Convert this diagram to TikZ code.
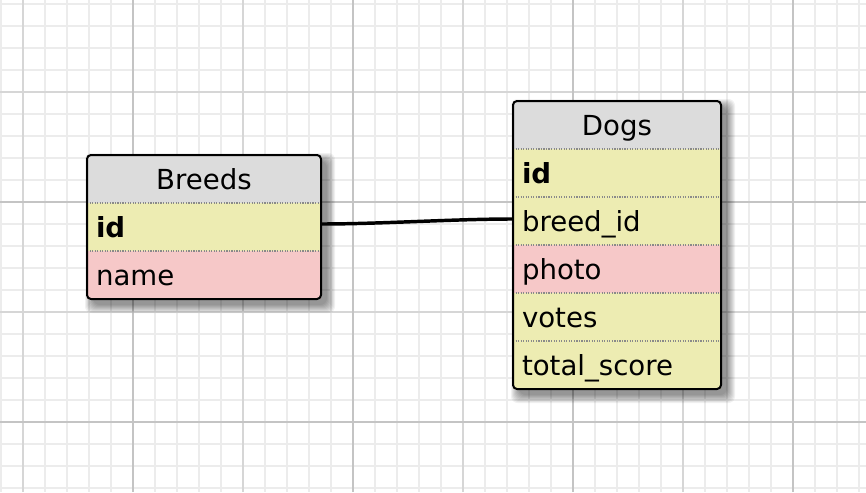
\documentclass[tikz,border=0pt]{standalone}
\usepackage{fontspec}
\setmainfont{DejaVu Sans}
\usetikzlibrary{positioning}

\pgfdeclarelayer{grid}
\pgfdeclarelayer{shadow}
\pgfsetlayers{grid,shadow,main}

\definecolor{hdrgray}{HTML}{DCDCDC}
\definecolor{keyyellow}{HTML}{EDECB2}
\definecolor{valpink}{HTML}{F6C8C8}
\definecolor{sepgray}{HTML}{8A8A8A}
\definecolor{minorline}{HTML}{ECECEC}
\definecolor{midline}{HTML}{D6D6D6}
\definecolor{majorline}{HTML}{C4C4C4}

\tikzset{hdr/.style={fill=hdrgray,minimum width=#1,minimum height=36pt,
                     inner sep=0pt,outer sep=0pt,align=center,
                     text height=19pt,text depth=3.6pt},
         fld/.style={fill=keyyellow,text width=#1,minimum height=36pt,
                     inner xsep=6.75pt,inner ysep=0pt,outer sep=0pt,align=left,
                     text height=19pt,text depth=3.6pt}}

\begin{document}
\begin{tikzpicture}[x=0.75pt,y=-0.75pt,node distance=0pt,
                    font=\fontsize{20.7}{24}\selectfont]

  \tikzstyle{pink}=[fill=valpink]
  \tikzstyle{sep}=[sepgray,densely dotted,line width=0.9pt]
  \tikzstyle{border}=[black,line width=1.5pt,rounded corners=3pt]
  \tikzstyle{link}=[black,line width=2.6pt]
  \tikzstyle{shade}=[black,opacity=0.055,rounded corners=5pt]

  \useasboundingbox (0,0) rectangle (866,492);

  % tables
  \node[hdr=175.5pt,anchor=north west] (breeds) at (87,155) {Breeds};
  \node[fld=162pt]       (breeds-id)   [below=of breeds]    {\textbf{id}};
  \node[fld=162pt,pink]  (breeds-name) [below=of breeds-id] {name};

  \node[hdr=156pt,anchor=north west] (dogs) at (513,101) {Dogs};
  \node[fld=142.5pt]      (dogs-id)    [below=of dogs]       {\textbf{id}};
  \node[fld=142.5pt]      (dogs-breed) [below=of dogs-id]    {breed\_id};
  \node[fld=142.5pt,pink] (dogs-photo) [below=of dogs-breed] {photo};
  \node[fld=142.5pt]      (dogs-votes) [below=of dogs-photo] {votes};
  \node[fld=142.5pt]      (dogs-score) [below=of dogs-votes] {total\_score};

  \draw[sep] (breeds-id.north west)   -- (breeds-id.north east);
  \draw[sep] (breeds-name.north west) -- (breeds-name.north east);
  \draw[sep] (dogs-id.north west)    -- (dogs-id.north east);
  \draw[sep] (dogs-breed.north west) -- (dogs-breed.north east);
  \draw[sep] (dogs-photo.north west) -- (dogs-photo.north east);
  \draw[sep] (dogs-votes.north west) -- (dogs-votes.north east);
  \draw[sep] (dogs-score.north west) -- (dogs-score.north east);

  \draw[border] (breeds.north west) rectangle (breeds-name.south east);
  \draw[border] (dogs.north west) rectangle (dogs-score.south east);

  % relation
  \draw[link] ([yshift=2.25pt]breeds-id.east) .. controls +(60,0) and +(-60,0)
              .. ([yshift=1.5pt]dogs-breed.west);

  % soft shadows
  \begin{pgfonlayer}{shadow}
    \foreach \e in {0,...,8} {
      \fill[shade] ([xshift=4.5pt-\e*0.75pt,yshift=-4.5pt+\e*0.75pt]breeds.north west)
        rectangle ([xshift=4.5pt+\e*0.75pt,yshift=-4.5pt-\e*0.75pt]breeds-name.south east);
      \fill[shade] ([xshift=4.5pt-\e*0.75pt,yshift=-4.5pt+\e*0.75pt]dogs.north west)
        rectangle ([xshift=4.5pt+\e*0.75pt,yshift=-4.5pt-\e*0.75pt]dogs-score.south east);
    }
  \end{pgfonlayer}

  % grid paper
  \begin{pgfonlayer}{grid}
    \fill[white] (0,0) rectangle (866,492);
    \foreach \x in {1,23,...,865} \draw[minorline,line width=1pt] (\x,0) -- (\x,492);
    \foreach \y in {4,26,...,490} \draw[minorline,line width=1pt] (0,\y) -- (866,\y);
    \foreach \x in {23,243,463,683} \draw[midline,line width=1pt] (\x,0) -- (\x,492);
    \foreach \y in {92,312} \draw[midline,line width=1pt] (0,\y) -- (866,\y);
    \foreach \x in {133,353,573,793} \draw[majorline,line width=1pt] (\x,0) -- (\x,492);
    \foreach \y in {202,422} \draw[majorline,line width=1pt] (0,\y) -- (866,\y);
  \end{pgfonlayer}

\end{tikzpicture}
\end{document}
